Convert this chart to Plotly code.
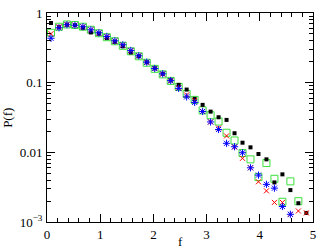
import plotly.graph_objects as go

f_vals = [0.075, 0.225, 0.375, 0.525, 0.675, 0.825, 0.975, 1.125, 1.275, 1.425,
          1.575, 1.725, 1.875, 2.025, 2.175, 2.325, 2.475, 2.625, 2.775, 2.925,
          3.075, 3.225, 3.375, 3.525, 3.675, 3.825, 3.975, 4.125, 4.275, 4.425,
          4.575, 4.725, 4.875]

p_black = [0.718, 0.625, 0.679, 0.667, 0.614, 0.526, 0.504, 0.437, 0.386, 0.333,
           0.271, 0.239, 0.196, 0.1606, 0.134, 0.108, 0.093, 0.0796, 0.0585, 0.048,
           0.0384, 0.0319, 0.0292, 0.0188, 0.01375, 0.0118, 0.00946, 0.00793, 0.0037, 0.00483,
           0.00287, 0.00186, 0.00135]

p_red = [0.504, 0.635, 0.685, 0.672, 0.635, 0.575, 0.515, 0.456, 0.395, 0.344,
         0.287, 0.243, 0.196, 0.1596, 0.1325, 0.106, 0.0842, 0.0667, 0.0556, 0.0386,
         0.0273, 0.0224, 0.0172, 0.0119, 0.0082, 0.0060, 0.00378, 0.0028, 0.00191, 0.00191,
         0.00129, 0.00144, 0.00135]

p_green = [0.520, 0.635, 0.685, 0.672, 0.635, 0.575, 0.512, 0.449, 0.393, 0.338,
           0.282, 0.239, 0.193, 0.158, 0.1316, 0.106, 0.087, 0.069, 0.0566, 0.040,
           0.0341, 0.0277, 0.0191, 0.0148, 0.00977, 0.00793, 0.00441, 0.00702, 0.00417, 0.00195,
           0.00383, 0.00199]

p_blue = [0.434, 0.614, 0.679, 0.667, 0.635, 0.575, 0.520, 0.461, 0.399, 0.350,
          0.290, 0.243, 0.197, 0.1596, 0.134, 0.107, 0.0828, 0.0625, 0.0521, 0.0386,
          0.0273, 0.0213, 0.01347, 0.01204, 0.00987, 0.0060, 0.00471, 0.00347, 0.00306, 0.00167,
          0.00129]

y_tickvals = [1e-3, 1e-2, 1e-1, 1]
y_ticktext = ["10<sup>\u22123</sup>", "0.01", "0.1", "1"]
x_tickvals = [0, 1, 2, 3, 4, 5]

FONT = "Liberation Serif"
GREEN = "rgb(60,225,60)"
TICKFONT = dict(family=FONT, size=13, color="black")

fig = go.Figure()
fig.add_trace(go.Scatter(x=f_vals[:len(p_green)], y=p_green, mode="markers",
                         marker=dict(symbol="square-open", size=7, color=GREEN,
                                     line=dict(width=1, color=GREEN))))
fig.add_trace(go.Scatter(x=f_vals, y=p_black, mode="markers",
                         marker=dict(symbol="square", size=4, color="black",
                                     line=dict(width=0))))
fig.add_trace(go.Scatter(x=f_vals, y=p_red, mode="markers",
                         marker=dict(symbol="x-thin-open", size=5, color="red",
                                     line=dict(width=1, color="red"))))
fig.add_trace(go.Scatter(x=f_vals[:len(p_blue)], y=p_blue, mode="markers",
                         marker=dict(symbol="asterisk-open", size=6, color="blue",
                                     line=dict(width=1, color="blue"))))

fig.update_layout(
    template="none",
    width=334, height=250,
    margin=dict(l=47, r=21, t=13, b=28, autoexpand=False),
    paper_bgcolor="white", plot_bgcolor="white",
    showlegend=False,
    font=dict(family=FONT, size=13, color="black"),
    xaxis=dict(range=[0, 5], tickvals=x_tickvals, ticks="inside", ticklen=8,
               tickcolor="black", showline=True, linecolor="black", linewidth=1,
               mirror="ticks", showgrid=False, zeroline=False, automargin=False,
               minor=dict(dtick=0.2, ticks="inside", ticklen=4, tickcolor="black", showgrid=False),
               tickfont=TICKFONT),
    yaxis=dict(type="log", range=[-3, 0], tickvals=y_tickvals, ticktext=y_ticktext,
               ticks="inside", ticklen=8, tickcolor="black", showline=True,
               linecolor="black", linewidth=1, mirror="ticks", showgrid=False,
               zeroline=False, automargin=False,
               minor=dict(dtick="D1", ticks="inside", ticklen=4, tickcolor="black", showgrid=False),
               tickfont=TICKFONT, ticklabelstandoff=1),
    annotations=[
        dict(text="P(f)", xref="paper", yref="paper", x=-0.149, y=0.5, textangle=-90,
             showarrow=False, font=TICKFONT, xanchor="center", yanchor="middle"),
        dict(text="f", xref="paper", yref="paper", x=0.5, y=-0.052, showarrow=False,
             font=TICKFONT, xanchor="center", yanchor="top", borderpad=0),
    ],
)

fig.write_html(
    "out.html",
    config={"displayModeBar": False},
    post_script="document.body.style.margin='0';document.body.style.padding='0';"
                "document.body.style.overflow='hidden';",
)
